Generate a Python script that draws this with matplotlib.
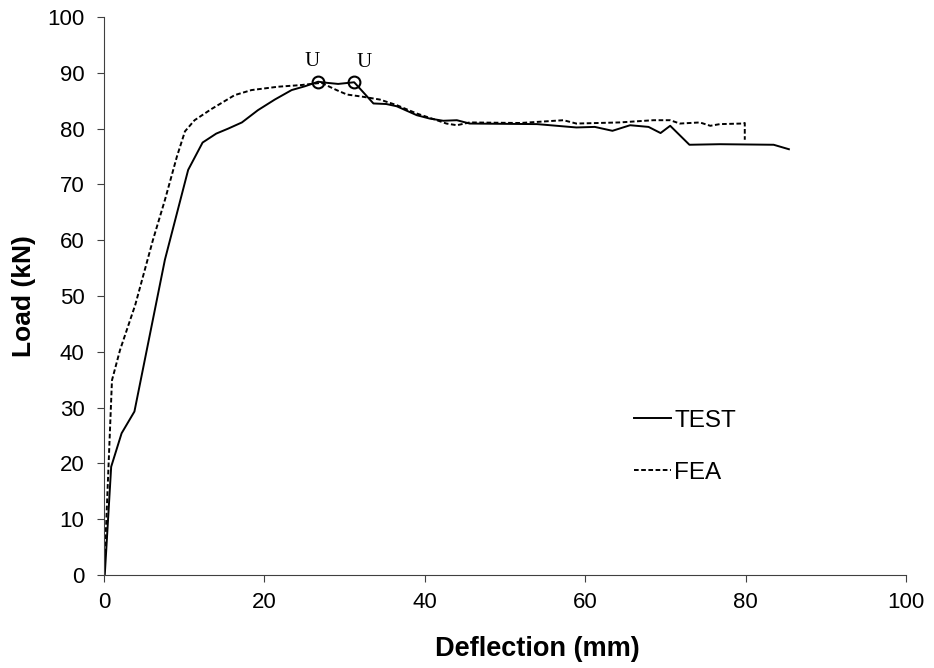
import matplotlib.pyplot as plt

test_x = [0, 0.1, 0.9, 2.2, 3.8, 7.6, 10.5, 12.3, 14.0, 15.5, 17.2, 19.2, 21.3, 23.4, 25.1, 26.7,
          27.8, 29.2, 31.2, 33.6, 35.2, 36.5, 39.0, 40.6, 42.3, 44.0, 45.6, 54.0, 58.9, 61.2,
          63.4, 65.6, 67.9, 69.4, 70.6, 73.0, 76.8, 83.5, 85.4]
test_y = [0, 0, 19.4, 25.4, 29.3, 56.5, 72.6, 77.5, 79.1, 80.0, 81.1, 83.3, 85.2, 86.9, 87.6, 88.4,
          88.2, 88.0, 88.3, 84.5, 84.4, 84.0, 82.4, 81.8, 81.4, 81.5, 80.9, 80.8, 80.2, 80.3,
          79.6, 80.6, 80.3, 79.2, 80.5, 77.1, 77.2, 77.1, 76.3]

fea_x = [0, 0.3, 1.0, 2.0, 3.9, 4.3, 6.1, 7.6, 9.1, 10.1, 11.3, 13.4, 16.3, 18.4, 21.7, 24.6,
         27.1, 29.0, 30.3, 32.3, 34.4, 36.5, 39.0, 41.5, 42.7, 44.0, 45.6, 51.9, 57.3, 58.9,
         64.3, 68.5, 70.6, 71.8, 74.3, 75.6, 76.8, 79.5, 79.9, 79.9]
fea_y = [0, 9.9, 34.9, 40.3, 48.4, 50.5, 60.0, 67.2, 75.0, 79.5, 81.5, 83.5, 86.0, 86.9, 87.5, 87.8,
         88.2, 86.9, 86.1, 85.7, 85.2, 84.2, 82.7, 81.5, 80.9, 80.6, 81.1, 81.0, 81.5, 80.9,
         81.1, 81.5, 81.5, 80.9, 81.1, 80.5, 80.8, 80.9, 81.0, 78.0]

# ultimate points, U labels sit a bit off each circle
u_x = [26.7, 31.2]
u_y = [88.4, 88.3]
u_dx = [-0.8, 1.2]

plt.rcParams['font.family'] = ['Liberation Sans', 'DejaVu Sans']

fig = plt.figure(figsize=(9.34, 6.68), dpi=100)
ax = fig.add_axes([0.1113, 0.1392, 0.8587, 0.8354])

ax.plot(test_x, test_y, color='black', lw=1.4, label='TEST')
ax.plot(fea_x, fea_y, color='black', lw=1.4, ls=(0, (2.4, 1.3)), label='FEA')
ax.plot(u_x, u_y, ls='none', marker='o', ms=8.5, mfc='none', mec='black', mew=1.5)
for xx, yy, dx in zip(u_x, u_y, u_dx):
    ax.text(xx + dx, yy + 1.9, 'U', family='Liberation Serif', fontsize=15,
            ha='center', va='bottom')

ax.set_xlim(0, 100)
ax.set_ylim(0, 100)
ax.set_xticks(range(0, 101, 20))
ax.set_yticks(range(0, 101, 10))
for s in ['top', 'right']:
    ax.spines[s].set_visible(False)
for s in ['left', 'bottom']:
    ax.spines[s].set_color('#404040')
ax.tick_params(direction='out', length=5, color='#404040', labelsize=16)
ax.tick_params(axis='x', pad=7)
ax.tick_params(axis='y', pad=9)

ax.set_xlabel('Deflection (mm)', fontsize=19.5, fontweight='bold', labelpad=17)
ax.xaxis.set_label_coords(0.54, -0.11)
ax.set_ylabel('Load (kN)', fontsize=19, fontweight='bold', labelpad=8)

ax.legend(loc='upper left', bbox_to_anchor=(0.661, 0.296), frameon=False, fontsize=17.5,
          handlelength=1.5, handletextpad=0.15, labelspacing=1.22,
          borderpad=0, borderaxespad=0)

fig.savefig('out.png', dpi=100)
